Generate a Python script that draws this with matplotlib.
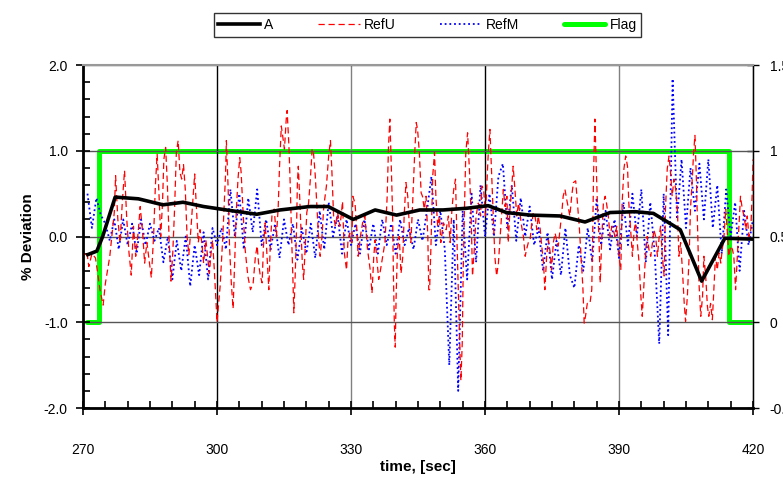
import numpy as np
import matplotlib
matplotlib.use("Agg")
import matplotlib.pyplot as plt

plt.rcParams['font.family'] = ['Liberation Sans', 'DejaVu Sans']

# series A (black, thick)
a_t = [271.1, 273.1, 274.4, 277.2, 282.4, 287.9, 292.4, 297.0, 302.1, 308.9, 314.1,
       320.8, 324.9, 330.5, 335.4, 340.2, 345.4, 350.6, 355.9, 360.7, 364.8, 370.1,
       376.8, 382.4, 388.0, 393.6, 397.7, 403.7, 408.5, 413.7, 420.0]
a_v = [-0.21, -0.17, 0.0, 0.46, 0.44, 0.37, 0.40, 0.35, 0.31, 0.26, 0.31,
       0.35, 0.35, 0.20, 0.31, 0.25, 0.31, 0.31, 0.33, 0.36, 0.28, 0.25,
       0.24, 0.17, 0.28, 0.29, 0.27, 0.08, -0.52, -0.02, -0.03]

# RefU (red dashed)
ru_t = [270.5, 271.0, 271.3, 272.0, 272.8, 273.8, 274.5, 275.0, 276.0, 277.0, 277.3, 277.8,
        278.3, 278.8, 279.3, 279.8, 280.3, 280.8, 281.3, 281.8, 282.4, 282.8, 283.3, 283.8,
        284.3, 284.8, 285.3, 285.8, 286.2, 286.6, 287.0, 287.4, 287.8, 288.1, 288.5, 288.9,
        289.3, 289.7, 290.1, 290.5, 290.9, 291.3, 291.7, 292.1, 292.5, 292.9, 293.3, 293.7,
        294.2, 294.7, 295.0, 295.4, 295.8, 296.2, 296.6, 297.0, 297.5, 297.9, 298.3, 298.6,
        299.0, 299.4, 299.8, 300.0,
        300.7, 301.3, 301.9, 302.1, 302.5, 302.8, 303.2, 303.6, 304.0, 304.3, 304.7, 305.1,
        305.4, 305.8, 306.3, 306.9, 307.5, 308.1, 308.6, 309.0, 309.3, 309.7, 310.1, 310.4,
        310.8, 311.2, 311.6, 311.9, 312.3, 312.8, 313.3, 313.7, 314.0, 314.4, 314.8, 315.1,
        315.5, 315.7, 316.1, 316.4, 316.7, 317.0, 317.2, 317.5, 317.8, 318.0, 318.2, 318.5,
        318.8, 319.1, 319.4, 319.8, 320.1, 320.5, 320.9, 321.3, 321.6, 322.0, 322.4, 322.8,
        323.1, 323.5, 323.9, 324.5, 325.0, 325.4, 325.7, 326.1, 326.5, 327.0, 327.5, 327.8,
        328.1, 328.5, 329.0, 329.3, 329.7, 330.2,
        330.4, 330.9, 331.3, 331.6, 332.1, 332.6, 333.1, 333.7, 334.3, 334.7, 335.1, 335.4,
        335.8, 336.2, 336.6, 337.1, 337.6, 338.1, 338.4, 338.7, 339.0, 339.3, 339.5, 339.7,
        339.9, 340.1, 340.4, 340.8, 341.2, 341.6, 341.9, 342.3, 342.7, 343.1, 343.4, 343.8,
        344.2, 344.6, 344.9, 345.3, 345.7, 346.0, 346.4, 346.8, 347.2, 347.4, 347.6, 347.9,
        348.3, 348.7, 349.0, 349.4, 349.8, 350.1, 350.7, 351.3, 351.8, 352.2, 352.6, 353.0,
        353.4, 353.7, 354.0, 354.3, 354.6, 354.9, 355.1, 355.4, 355.7, 356.1, 356.5, 356.9,
        357.2, 357.6, 358.0, 358.5, 359.0, 359.3, 359.7,
        360.1, 360.4, 360.7, 361.1, 361.5, 361.9, 362.2, 362.6, 363.0, 363.4, 363.7, 364.1,
        364.5, 364.9, 365.2, 365.6, 366.0, 366.3, 366.7, 367.1, 367.5, 367.8, 368.2, 368.6,
        369.0, 369.3, 369.7, 370.1, 370.4, 370.8, 371.2, 371.6, 371.9, 372.3, 372.7, 373.1,
        373.4, 373.8, 374.2, 374.6, 374.9, 375.3, 375.7, 376.0, 376.4, 376.8, 377.2, 377.5,
        377.9, 378.3, 378.7, 379.0, 379.4, 379.8, 380.3, 380.7, 381.1, 381.5, 381.9, 382.2,
        382.5, 382.9, 383.5, 383.9, 384.1, 384.3, 384.6, 384.9, 385.2, 385.5, 385.8, 386.1,
        386.5, 386.9, 387.2, 387.6, 388.0, 388.4, 388.7, 389.1, 389.5, 389.9,
        390.4, 390.7, 391.1, 391.5, 391.9, 392.2, 392.6, 393.0, 393.4, 393.7, 394.1, 394.5,
        394.9, 395.2, 395.6, 396.0, 396.3, 396.7, 397.1, 397.5, 397.8, 398.2, 398.6, 399.0,
        399.3, 399.7, 400.1, 400.4, 400.8, 401.2, 401.6, 401.9, 402.3, 402.7, 403.1, 403.4,
        403.8, 404.2, 404.6, 404.9, 405.3, 405.7, 406.0, 406.4, 406.7, 407.0, 407.3, 407.6,
        407.9, 408.3, 408.7, 409.0, 409.4, 409.8, 410.1, 410.5, 410.9, 411.3, 411.6, 412.0,
        412.4, 412.8, 413.1, 413.5, 413.9, 414.3, 414.6, 415.0, 415.4, 415.7, 416.1, 416.5,
        416.9, 417.2, 417.6, 418.0, 418.4, 418.7, 419.1, 419.5, 419.8, 420.0]
ru_v = [-0.2, -0.23, -0.35, -0.2, -0.25, -0.62, -0.8, -0.55, -0.23, 0.28, 0.71, 0.2,
        -0.07, 0.4, 0.77, 0.2, -0.19, -0.45, 0.12, -0.23, 0.08, 0.35, 0.08, -0.31,
        -0.07, -0.27, -0.48, 0.0, 0.59, 0.96, 0.51, 0.0, 0.39, 0.9, 1.04, 0.59,
        -0.07, -0.52, -0.19, 0.32, 0.98, 1.12, 0.75, 0.67, 0.84, 0.55, 0.0, -0.21,
        0.12, 0.51, 0.73, 0.32, -0.07, 0.08, -0.07, -0.31, -0.04, -0.23, -0.43, -0.23,
        -0.04, -0.39, -0.78, -1.0,
        -0.58, 0.0, 0.71, 1.12, 0.55, -0.11, -0.54, -0.84, -0.23, 0.28, 0.67, 0.92,
        0.75, 0.32, -0.15, -0.46, -0.62, -0.54, -0.23, -0.11, -0.31, -0.46, -0.54, -0.11,
        0.16, -0.23, -0.62, -0.15, 0.24, 0.32, 0.0, 0.34, 0.82, 1.29, 1.14, 1.02,
        1.37, 1.47, 1.06, 0.59, 0.0, -0.5, -0.89, -0.46, 0.08, 0.63, 0.82, 0.47,
        0.08, -0.31, -0.5, -0.07, 0.28, 0.39, 0.67, 1.02, 0.98, 0.71, 0.32, -0.07,
        -0.23, 0.0, 0.35, 0.59, 0.94, 1.12, 0.79, 0.24, 0.12, 0.28, 0.12, 0.24,
        0.41, -0.19, -0.39, -0.07, 0.04, -0.07,
        0.47, 0.39, 0.08, -0.23, 0.0, 0.16, 0.24, -0.15, -0.39, -0.66, -0.23, -0.04,
        -0.27, -0.5, -0.39, -0.23, -0.07, 0.47, 1.06, 1.37, 0.86, 0.28, -0.46, -1.01,
        -1.29, -0.7, -0.15, 0.0, -0.43, -0.23, 0.24, 0.63, 0.47, 0.08, -0.07, 0.39,
        0.9, 1.33, 1.25, 0.98, 0.51, 0.47, 0.32, 0.47, 0.0, -0.62, -0.62, -0.11,
        0.71, 0.98, 0.47, 0.12, 0.24, -0.07, 0.16, 0.08, 0.24, -0.07, 0.32, 0.55,
        0.67, 0.0, -0.58, -1.17, -1.68, -1.25, -0.46, 0.32, 0.98, 1.21, 0.79, 0.24,
        -0.46, -0.15, 0.24, 0.39, 0.24, 0.59, 0.55,
        0.24, 0.59, 0.94, 1.25, 0.71, 0.2, -0.23, -0.46, -0.31, 0.0, 0.24, 0.55,
        0.35, 0.47, -0.07, 0.32, 0.59, 0.82, 0.55, 0.24, 0.39, 0.28, 0.12, 0.0,
        -0.23, -0.15, -0.07, -0.04, 0.12, 0.28, 0.24, 0.08, 0.24, 0.12, -0.11, -0.31,
        -0.62, -0.23, -0.04, -0.19, -0.39, -0.07, 0.04, -0.04, -0.11, 0.08, 0.28, 0.47,
        0.55, 0.43, 0.32, 0.24, 0.47, 0.63, 0.65, 0.39, 0.12, -0.23, -0.58, -1.01,
        -0.93, -0.78, -0.78, -0.62, 0.0, 0.71, 1.37, 0.82, 0.32, 0.0, -0.54, -0.07,
        0.39, 0.47, 0.39, 0.24, 0.0, 0.12, 0.08, 0.0, 0.12, -0.19,
        -0.39, 0.39, 0.79, 0.94, 0.82, 0.39, 0.08, -0.23, 0.08, 0.16, -0.07, -0.31,
        -0.7, -0.93, -0.54, -0.15, 0.0, -0.15, -0.23, -0.07, 0.08, 0.0, -0.23, 0.0,
        0.12, -0.23, -0.46, 0.32, 0.79, 0.94, 0.71, 0.47, 0.67, 0.55, 0.28, -0.23,
        -0.07, -0.39, -0.78, -0.99, -0.7, -0.23, 0.32, 0.67, 0.98, 1.18, 0.71, 0.08,
        -0.54, -0.93, -0.7, -0.23, -0.46, -0.82, -0.93, -0.78, -0.97, -0.54, -0.23, -0.39,
        -0.19, -0.31, -0.15, 0.0, 0.32, 0.0, -0.23, -0.11, -0.15, -0.23, -0.62, -0.23,
        0.16, 0.47, 0.32, 0.24, 0.08, 0.24, 0.0, 0.08, 0.47, 0.9]

# RefM (blue dotted), one sample per second starting at 271 s
rm_v = [0.5, 0.1, 0.45, 0.25, 0.15, -0.05, 0.2, -0.15, 0.2, -0.1,
        0.15, -0.2, 0.2, -0.1, 0.15, -0.05, 0.1, -0.3, 0.0, -0.5,
        -0.05, -0.4, 0.0, -0.58, -0.1, -0.45, 0.05, -0.5, 0.1, -0.1,
        0.1, -0.15, 0.55, 0.0, 0.5, -0.15, 0.45, 0.05, 0.55, -0.1,
        0.2, -0.15, 0.15, -0.25, 0.2, -0.1, 0.15, -0.27, 0.1, -0.2,
        0.15, -0.25, 0.3, -0.15, 0.4, 0.0, 0.25, -0.2, 0.2, -0.1,
        0.15, -0.2, 0.2, -0.15, 0.15, -0.2, 0.2, -0.1, 0.15, -0.2,
        0.2, -0.1, 0.1, -0.15, 0.2, -0.05, 0.3, 0.7, -0.1, 0.3,
        -0.15, -1.5, 0.2, -1.8, 0.3, -0.5, 0.5, -0.3, 0.6, 0.0,
        0.5, 0.0, 0.7, 0.85, 0.1, 0.6, -0.05, 0.45, 0.0, 0.35,
        -0.1, 0.1, -0.4, 0.05, -0.5, -0.05, -0.45, 0.1, -0.45, -0.6,
        -0.1, -0.4, 0.1, -0.3, 0.45, -0.1, 0.3, -0.15, 0.2, -0.25,
        0.4, -0.1, 0.5, 0.0, 0.55, -0.3, 0.4, -0.2, -1.25, 0.5,
        -1.15, 1.84, 0.2, 0.9, 0.1, 0.8, 0.3, 0.85, 0.2, 0.9,
        0.1, 0.6, -0.2, 0.55, 0.0, 0.4, -0.4, 0.3, -0.1, 0.2]
rm_t = np.arange(271, 271 + len(rm_v))

# Flag (green, right axis, 0/1)
flag_t = [271.0, 273.6, 414.7, 420.0]
flag_v = [0, 1, 0, 0]

fig = plt.figure(figsize=(7.83, 4.82), dpi=100)
ax = fig.add_axes([0.106, 0.1535, 0.8557, 0.7115])
ax2 = ax.twinx()

la, = ax.plot(a_t, a_v, color='black', lw=2.6, zorder=4)
lu, = ax.plot(ru_t, ru_v, color='#ff0000', lw=0.9, dashes=(5, 3), zorder=3)
lm, = ax.plot(rm_t, rm_v, color='#0000ff', lw=1.3, dashes=(1, 1.6), zorder=2)
lf, = ax2.plot(flag_t, flag_v, color='#00ff00', lw=3.6, drawstyle='steps-post',
               solid_capstyle='round', zorder=5)

ax.set_xlim(270, 420)
ax.set_ylim(-2, 2)
ax2.set_ylim(-0.5, 1.5)
ax.set_xticks([270, 300, 330, 360, 390, 420])
ax.set_xticks(np.arange(270, 421, 5), minor=True)
ax.set_yticks([-2, -1, 0, 1, 2])
ax.set_yticklabels(['-2.0', '-1.0', '0.0', '1.0', '2.0'])
ax.set_yticks(np.arange(-2, 2.01, 0.2), minor=True)
ax2.set_yticks([-0.5, 0, 0.5, 1, 1.5])
ax2.set_yticklabels(['-0.5', '0', '0.5', '1', '1.5'])

ax.tick_params(axis='both', which='major', direction='inout', length=10, width=1.2,
               labelsize=10)
ax.tick_params(axis='x', which='major', pad=20)
ax.tick_params(axis='y', which='major', pad=6)
ax.tick_params(axis='both', which='minor', direction='in', length=5, width=1.2)
ax2.tick_params(axis='y', direction='inout', length=8, width=1, labelsize=10, pad=8)

ax.set_zorder(ax2.get_zorder() + 1)
ax.patch.set_visible(False)

ax.grid(True, which='major', color='#808080', lw=1)
for i, g in enumerate(ax.get_xgridlines()):
    if i in (1, 3):
        g.set_color('black')
for g in ax.get_ygridlines():
    g.set_color('#555555')

for sp in ('left', 'bottom'):
    ax.spines[sp].set_linewidth(2)
ax.spines['top'].set_color('#999999')
ax.spines['top'].set_linewidth(1.5)
ax2.spines['right'].set_linewidth(1)
for sp in ('left', 'bottom', 'top'):
    ax2.spines[sp].set_visible(False)

ax.set_xlabel('time, [sec]', fontsize=11, fontweight='bold', labelpad=2)
ax.set_ylabel('% Deviation', fontsize=11, fontweight='bold', labelpad=6)

leg = fig.legend([la, lu, lm, lf], ['A', 'RefU', 'RefM', 'Flag'], ncol=4,
                 loc='center', bbox_to_anchor=(0.546, 0.948), fontsize=10,
                 frameon=True, fancybox=False, edgecolor='black',
                 handlelength=3.0, handletextpad=0.3, columnspacing=3.2,
                 borderpad=0.35)
leg.get_frame().set_linewidth(1)

fig.savefig('out.png', dpi=100)
